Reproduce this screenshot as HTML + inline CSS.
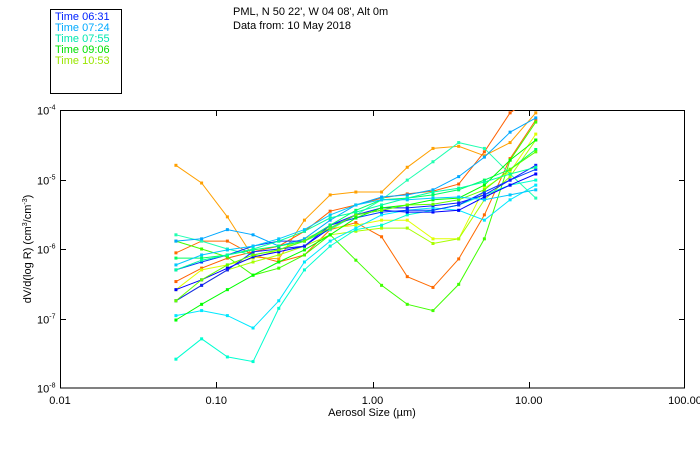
<!DOCTYPE html>
<html><head><meta charset="utf-8"><style>
body{margin:0;background:#fff;}
svg{display:block;font-family:"Liberation Sans",sans-serif;}
</style></head><body>
<svg id="chart" width="700" height="450" viewBox="0 0 700 450" xmlns="http://www.w3.org/2000/svg">
<defs><clipPath id="plotclip"><rect x="60" y="110" width="625" height="278"/></clipPath></defs>
<rect x="50.5" y="9.5" width="71" height="84" fill="none" stroke="#000"/>
<g font-size="11">
<text x="55" y="20" fill="#0022ff">Time 06:31</text>
<text x="55" y="31" fill="#00aaff">Time 07:24</text>
<text x="55" y="42" fill="#00e8b0">Time 07:55</text>
<text x="55" y="53" fill="#00e000">Time 09:06</text>
<text x="55" y="64" fill="#99e600">Time 10:53</text>
</g>
<text x="233" y="15" font-size="11">PML, N 50 22', W 04 08', Alt 0m</text>
<text x="233" y="29" font-size="11">Data from: 10 May 2018</text>
<rect x="60.5" y="110.5" width="624" height="277.5" fill="none" stroke="#000"/>
<g id="axes"></g>
<g id="series" clip-path="url(#plotclip)"></g>
<text x="372" y="416" font-size="11" text-anchor="middle">Aerosol Size (µm)</text>
<text transform="translate(31,249) rotate(-90)" font-size="11" text-anchor="middle">dV/d(log R) (cm<tspan font-size="7" dy="-4">3</tspan><tspan dy="4">/cm</tspan><tspan font-size="7" dy="-4">-3</tspan><tspan dy="4">)</tspan></text>
</svg>
<script>
const xTickValues=[0.01,0.1,1,10,100];
const xTickLabels=["0.01","0.10","1.00","10.00","100.00"];
const yTickExps=[-4,-5,-6,-7,-8];
const sizes=[0.0552,0.0806,0.1178,0.172,0.2512,0.3668,0.5358,0.7825,1.143,1.669,2.438,3.561,5.2,7.595,11.09];
const seriesColors=["#ffa000","#ff6a00","#ff6000","#40ff00","#e0ff00","#a8ff00","#00ffd0","#00e8ff","#20ffb0","#00a8ff","#0000ff","#0040ff","#1020ff","#00ff60","#00ff00","#60ff00","#00ffa0","#00c8ff"];
// values read as pixel positions, converted to dV/dlogR (cm3/cm-3)
const seriesPix=[
[165,183,217,257,259,220,195,192,192,168,148,146,156,143,113],
[253,242,240,255,262,255,230,222,237,277,287,259,215,158,120],
[282,268,258,252,246,232,211,205,198,194,191,184,152,113,95],
[242,248,257,275,268,255,235,260,285,304,311,284,238,160,122],
[290,270,265,258,250,238,228,225,220,220,238,238,188,172,134],
[300,285,270,262,255,245,235,232,228,228,244,238,200,178,140],
[359,339,357,362,309,270,245,230,225,215,210,205,195,185,180],
[315,310,315,328,300,262,240,228,215,210,208,210,220,200,185],
[235,240,248,255,250,240,230,215,200,180,162,143,148,175,198],
[242,238,230,235,245,238,220,205,197,195,190,177,157,132,118],
[290,280,268,257,252,245,228,215,210,212,212,210,197,185,175],
[270,262,255,245,240,240,225,218,212,210,210,205,192,180,170],
[300,285,270,252,248,245,225,215,208,208,206,203,195,180,165],
[258,258,255,250,245,240,225,210,200,198,195,190,180,170,150],
[320,305,290,275,262,250,235,218,208,205,200,198,185,160,140],
[300,280,265,255,250,240,228,215,210,205,204,200,190,170,152],
[270,260,255,248,240,232,218,212,205,198,192,188,182,175,168],
[265,255,250,245,238,230,215,205,200,200,198,197,200,195,190]
];
const seriesValues=seriesPix.map(r=>r.map(p=>+Math.pow(10,-4-(p-110)/69.5).toPrecision(2)));
const NS="http://www.w3.org/2000/svg";
function xS(v){return 60+(Math.log10(v)+2)*156.25;}
function yS(v){return 110+(-4-Math.log10(v))*69.5;}
const axes=document.getElementById('axes');
function mk(t,a,p){const e=document.createElementNS(NS,t);for(const k in a)e.setAttribute(k,a[k]);p.appendChild(e);return e;}
xTickValues.forEach((v,i)=>{
 const x=Math.round(xS(v))+0.5;
 if(i>0&&i<4){
  const t1=mk('line',{x1:x,x2:x,y1:388,y2:382,stroke:'#000'},axes);
  
  
  const t2=mk('line',{x1:x,x2:x,y1:110,y2:116,stroke:'#000'},axes);
  
  
 }
 const l=mk('text',{x:xS(v),y:404,'font-size':11,'text-anchor':'middle'},axes);
 l.textContent=xTickLabels[i];
 
 
});
yTickExps.forEach((e,i)=>{
 const y=Math.round(yS(Math.pow(10,e)))+0.5;
 if(i>0&&i<4){
  const t=mk('line',{x1:60,x2:66,y1:y,y2:y,stroke:'#000'},axes);
  
  
  const t2=mk('line',{x1:685,x2:679,y1:y,y2:y,stroke:'#000'},axes);
  
  
 }
 const l=mk('text',{x:37,y:y+4,'font-size':11},axes);
 
 
 l.appendChild(document.createTextNode('10'));
 const s=mk('tspan',{'font-size':7,dy:-5},l);s.textContent=String(e);
});
const sg=document.getElementById('series');
seriesValues.forEach((vals,si)=>{
 const g=mk('g',{},sg);
 
 
 const pts=vals.map((v,i)=>xS(sizes[i]).toFixed(1)+','+yS(v).toFixed(1)).join(' ');
 const pl=mk('polyline',{points:pts,fill:'none',stroke:seriesColors[si],'stroke-width':1},g);
 
 
 vals.forEach((v,i)=>{
  const r=mk('rect',{x:xS(sizes[i])-1.5,y:yS(v)-1.5,width:3,height:3,fill:seriesColors[si]},g);
  
  
 });
});
</script>
</body></html>
